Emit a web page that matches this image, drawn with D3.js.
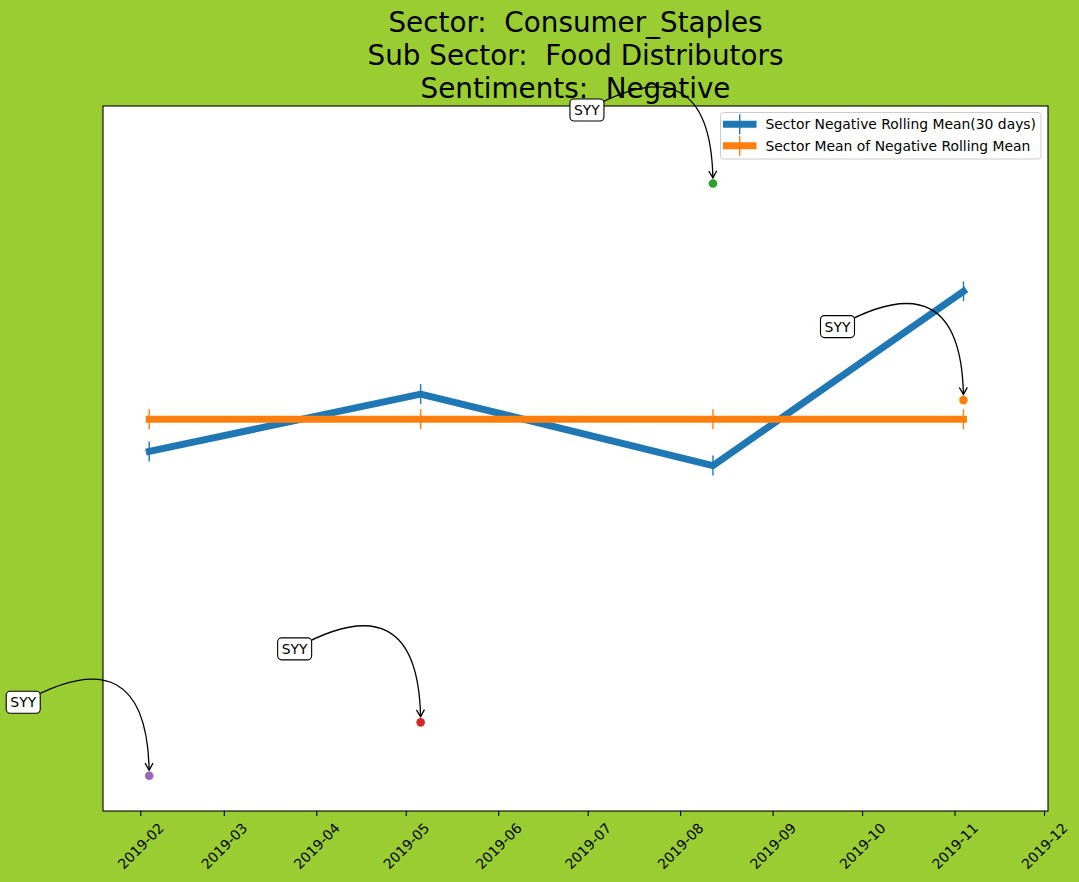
<!DOCTYPE html>
<html>
<head>
<meta charset="utf-8">
<script src="https://cdn.jsdelivr.net/npm/d3@7"></script>
<style>
  body { margin: 0; background: #9acd32; }
  text { font-family: "DejaVu Sans", sans-serif; }
</style>
</head>
<body>
<div class="chart"></div>
<script>
// data
var dates = ["2019-02-04", "2019-05-06", "2019-08-12", "2019-11-04"];
var rollingMean = [0.457, 0.514, 0.443, 0.616];
var sectorMean = [0.489, 0.489, 0.489, 0.489];
var tickerValues = [0.135, 0.188, 0.723, 0.508];
var tickerNames = ["SYY", "SYY", "SYY", "SYY"];
var tickLabels = ["2019-02", "2019-03", "2019-04", "2019-05", "2019-06", "2019-07",
  "2019-08", "2019-09", "2019-10", "2019-11", "2019-12"];
var titleLines = ["Sector:  Consumer_Staples", "Sub Sector:  Food Distributors", "Sentiments:  Negative"];
var legendLabels = ["Sector Negative Rolling Mean(30 days)", "Sector Mean of Negative Rolling Mean"];

var dotColors = ["#9467bd", "#d62728", "#2ca02c", "#ff7f0e"];
var lineColors = ["#1f77b4", "#ff7f0e"];

var svgWidth = 1079;
var svgHeight = 882;
var margin = { top: 106, right: 31, bottom: 71, left: 103 };
var width = svgWidth - margin.left - margin.right;
var height = svgHeight - margin.top - margin.bottom;

var parseDay = d3.utcParse("%Y-%m-%d");
var parseMonth = d3.utcParse("%Y-%m");

var svg = d3.select('.chart')
  .append('svg')
  .attr('width', svgWidth)
  .attr('height', svgHeight);

svg.append('rect')
  .attr('width', svgWidth)
  .attr('height', svgHeight)
  .attr('fill', '#9acd32');

var canvas = svg.append('g')
  .attr('transform', 'translate(' + margin.left + ',' + margin.top + ')');

var xScale = d3.scaleUtc()
  .domain([Date.UTC(2019, 0, 19, 12), Date.UTC(2019, 11, 2, 8)])
  .range([0, width]);

var yScale = d3.scaleLinear()
  .domain([0.10, 0.80])
  .range([height, 0]);

canvas.append('rect')
  .attr('width', width)
  .attr('height', height)
  .attr('fill', 'white');

var days = dates.map(function (d) { return parseDay(d); });

function drawSeries(values, color) {
  var pts = values.map(function (v, i) { return [xScale(days[i]), yScale(v)]; });
  canvas.append('path')
    .attr('d', d3.line()(pts))
    .attr('fill', 'none')
    .attr('stroke', color)
    .attr('stroke-width', 6.9)
    .attr('stroke-linecap', 'square')
    .attr('stroke-linejoin', 'round');
  canvas.selectAll(null)
    .data(pts)
    .enter()
    .append('line')
    .attr('x1', function (p) { return p[0]; })
    .attr('x2', function (p) { return p[0]; })
    .attr('y1', function (p) { return p[1] - 10; })
    .attr('y2', function (p) { return p[1] + 10; })
    .attr('stroke', color)
    .attr('stroke-width', 1.4);
}

drawSeries(rollingMean, lineColors[0]);
drawSeries(sectorMean, lineColors[1]);

// ticker dots
canvas.selectAll('circle')
  .data(tickerValues)
  .enter()
  .append('circle')
  .attr('cx', function (d, i) { return xScale(days[i]); })
  .attr('cy', function (d) { return yScale(d); })
  .attr('r', 4.3)
  .attr('fill', function (d, i) { return dotColors[i]; });

// frame
canvas.append('rect')
  .attr('width', width)
  .attr('height', height)
  .attr('fill', 'none')
  .attr('stroke', 'black')
  .attr('stroke-width', 1.1);

// x axis
var xAxis = d3.axisBottom(xScale)
  .tickValues(tickLabels.map(function (t) { return parseMonth(t); }))
  .tickFormat(d3.utcFormat("%Y-%m"))
  .tickSize(4.9)
  .tickPadding(0);

var axisG = canvas.append('g')
  .attr('class', 'x axis')
  .attr('transform', 'translate(0,' + height + ')')
  .call(xAxis);
axisG.select('.domain').remove();
axisG.selectAll('.tick line').attr('stroke', 'black').attr('stroke-width', 1.1);
axisG.selectAll('.tick text')
  .attr('font-size', '13.9px')
  .attr('font-family', 'DejaVu Sans')
  .attr('fill', 'black')
  .attr('text-anchor', 'middle')
  .attr('y', 0)
  .attr('dy', '0.35em')
  .attr('transform', 'translate(0,35) rotate(-45)');

// annotations
function quad(p0, c, p1, t) {
  var a = 1 - t;
  return [a * a * p0[0] + 2 * a * t * c[0] + t * t * p1[0],
          a * a * p0[1] + 2 * a * t * c[1] + t * t * p1[1]];
}

var annG = canvas.append('g');
tickerValues.forEach(function (v, i) {
  var end = [xScale(days[i]), yScale(v)];
  var start = [end[0] - 126, end[1] - 73.5];
  var dx = end[0] - start[0], dy = end[1] - start[1];
  var rad = 0.85;
  var ctrl = [(start[0] + end[0]) / 2 + rad * dy, (start[1] + end[1]) / 2 - rad * dx];
  // stop the arrow a few pixels short of the point
  var t = 1;
  while (t > 0.5) {
    var q = quad(start, ctrl, end, t);
    if (Math.hypot(q[0] - end[0], q[1] - end[1]) >= 5.5) break;
    t -= 0.002;
  }
  var c1 = [start[0] + (ctrl[0] - start[0]) * t, start[1] + (ctrl[1] - start[1]) * t];
  var tip = quad(start, ctrl, end, t);
  var path = d3.path();
  path.moveTo(start[0], start[1]);
  path.quadraticCurveTo(c1[0], c1[1], tip[0], tip[1]);
  annG.append('path')
    .attr('d', path.toString())
    .attr('fill', 'none')
    .attr('stroke', 'black')
    .attr('stroke-width', 1.3);
  var ang = Math.atan2(tip[1] - c1[1], tip[0] - c1[0]);
  var hl = 7, hw = 4;
  var bx = tip[0] - hl * Math.cos(ang), by = tip[1] - hl * Math.sin(ang);
  var nx = -Math.sin(ang), ny = Math.cos(ang);
  annG.append('path')
    .attr('d', 'M' + (bx + hw * nx) + ',' + (by + hw * ny) + 'L' + tip[0] + ',' + tip[1] +
      'L' + (bx - hw * nx) + ',' + (by - hw * ny))
    .attr('fill', 'none')
    .attr('stroke', 'black')
    .attr('stroke-width', 1.3);
  annG.append('rect')
    .attr('x', start[0] - 17)
    .attr('y', start[1] - 11)
    .attr('width', 34)
    .attr('height', 22)
    .attr('rx', 4)
    .attr('fill', 'white')
    .attr('stroke', 'black')
    .attr('stroke-width', 1.1);
  annG.append('text')
    .attr('x', start[0])
    .attr('y', start[1])
    .attr('dy', '0.36em')
    .attr('text-anchor', 'middle')
    .attr('font-size', '13.9px')
    .text(tickerNames[i]);
});

// legend
var legend = canvas.append('g')
  .attr('transform', 'translate(' + (720.5 - margin.left) + ',' + (112.5 - margin.top) + ')');
legend.append('rect')
  .attr('width', 320.5)
  .attr('height', 46.5)
  .attr('rx', 3)
  .attr('fill', 'white')
  .attr('fill-opacity', 0.8)
  .attr('stroke', '#cccccc');
legendLabels.forEach(function (label, i) {
  var ly = 11.8 + i * 21.4;
  legend.append('line')
    .attr('x1', 2.5).attr('x2', 36)
    .attr('y1', ly).attr('y2', ly)
    .attr('stroke', lineColors[i])
    .attr('stroke-width', 6.9);
  legend.append('line')
    .attr('x1', 19.2).attr('x2', 19.2)
    .attr('y1', ly - 10).attr('y2', ly + 10)
    .attr('stroke', lineColors[i])
    .attr('stroke-width', 1.4);
  legend.append('text')
    .attr('x', 45)
    .attr('y', ly)
    .attr('dy', '0.36em')
    .attr('font-size', '13.9px')
    .text(label);
});

// title
svg.append('g').selectAll('text')
  .data(titleLines)
  .enter()
  .append('text')
  .attr('x', margin.left + width / 2)
  .attr('y', function (d, i) { return 32 + i * 33.2; })
  .attr('text-anchor', 'middle')
  .attr('font-size', '27.8px')
  .style('white-space', 'pre')
  .text(function (d) { return d; });
</script>
</body>
</html>
